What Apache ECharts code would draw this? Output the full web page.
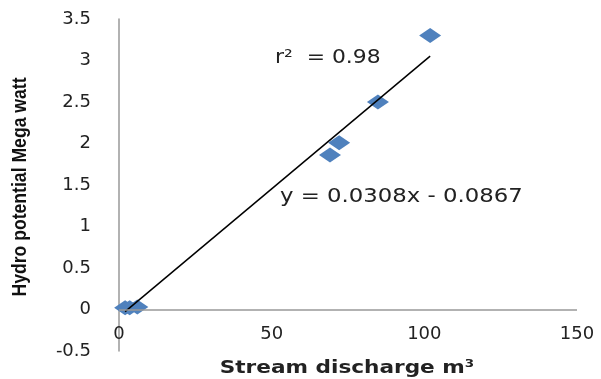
<!DOCTYPE html>
<html>
<head>
<meta charset="utf-8">
<script src="https://cdn.jsdelivr.net/npm/echarts@6/dist/echarts.min.js"></script>
<style>
    html, body { margin: 0; padding: 0; background: #fff; }
    #chart { width: 601px; height: 379px; }
</style>
</head>
<body>
<div id="chart"></div>
<script>
// 数据
let discharge = [2, 3.5, 6, 69.1, 72.1, 84.8, 101.9];
let hydroPower = [0.02, 0.02, 0.03, 1.86, 2.01, 2.5, 3.3];
let xTicks = [0, 50, 100, 150];
let yTicks = [-0.5, 0, 0.5, 1, 1.5, 2, 2.5, 3, 3.5];
// 趋势线 y = 0.0308x - 0.0867
let slope = 0.0308;
let intercept = -0.0867;
let r2 = 0.98;

(function () {
    let myChart = echarts.init(document.getElementById('chart'));
    let points = discharge.map(function (x, i) { return [x, hydroPower[i]]; });
    let xMin = Math.min.apply(null, discharge);
    let xMax = Math.max.apply(null, discharge);
    let trend = [[xMin, slope * xMin + intercept], [xMax, slope * xMax + intercept]];
    let labelFont = { fontFamily: 'DejaVu Sans', fontSize: 18, color: '#222' };
    let option = {
        animation: false,
        grid: { left: 119, right: 24, top: 19, bottom: 28, outerBoundsMode: 'none', containLabel: false },
        xAxis: {
            type: 'value',
            min: xTicks[0],
            max: xTicks[xTicks.length - 1],
            interval: 50,
            splitLine: { show: false },
            axisTick: { show: false },
            axisLine: { show: false, onZero: false },
            axisLabel: Object.assign({ margin: -26 }, labelFont)
        },
        yAxis: {
            type: 'value',
            min: yTicks[0],
            max: yTicks[yTicks.length - 1],
            interval: 0.5,
            splitLine: { show: false },
            axisTick: { show: false },
            axisLine: { show: true, onZero: false, lineStyle: { color: '#999', width: 1.5 } },
            axisLabel: Object.assign({ margin: 28 }, labelFont)
        },
        series: [
            {
                type: 'line',
                data: trend,
                symbol: 'none',
                lineStyle: { color: '#000', width: 1.5 },
                z: 3
            },
            {
                type: 'scatter',
                data: points,
                symbol: 'diamond',
                symbolSize: [22, 15],
                itemStyle: { color: '#4F81BD', opacity: 1 },
                z: 2,
                markLine: {
                    silent: true,
                    symbol: 'none',
                    label: { show: false },
                    lineStyle: { color: '#999', width: 1.5, type: 'solid' },
                    data: [{ yAxis: 0 }]
                }
            }
        ],
        graphic: [
            {
                type: 'text', x: 20, y: 187, rotation: Math.PI / 2, scaleX: 0.88,
                style: {
                    text: 'Hydro potential Mega watt', fontFamily: 'Liberation Sans', fontWeight: 'bold',
                    fontSize: 20, fill: '#111', align: 'center', verticalAlign: 'middle'
                }
            },
            {
                type: 'text', x: 347, y: 368, scaleX: 1.2,
                style: {
                    text: 'Stream discharge m³', fontFamily: 'DejaVu Sans', fontWeight: 'bold',
                    fontSize: 18, fill: '#222', align: 'center', verticalAlign: 'middle'
                }
            },
            {
                type: 'text', x: 275, y: 58, scaleX: 1.15,
                style: { text: 'r²  = 0.98', fontFamily: 'DejaVu Sans', fontSize: 19, fill: '#222', verticalAlign: 'middle' }
            },
            {
                type: 'text', x: 280, y: 197, scaleX: 1.2,
                style: { text: 'y = 0.0308x - 0.0867', fontFamily: 'DejaVu Sans', fontSize: 19, fill: '#222', verticalAlign: 'middle' }
            }
        ]
    };
    myChart.setOption(option);
    window.addEventListener('resize', function () {
        myChart.resize()
    })
})();
</script>
</body>
</html>
